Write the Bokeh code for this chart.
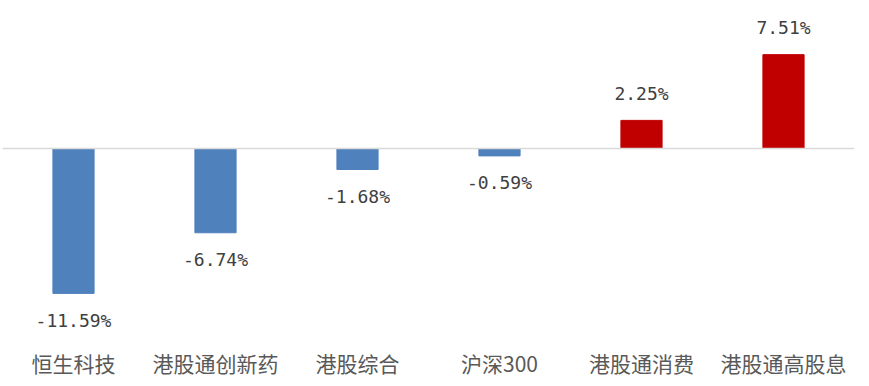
from bokeh.plotting import figure
from bokeh.models import ColumnDataSource, Range1d, FactorRange, Span
from bokeh.core.properties import value
from bokeh.embed import file_html
from bokeh.resources import INLINE

categories = ["恒生科技", "港股通创新药", "港股综合", "沪深300", "港股通消费", "港股通高股息"]
values = [-11.59, -6.74, -1.68, -0.59, 2.25, 7.51]

NEG = "#4f81bd"
POS = "#c00000"

colors = [POS if v > 0 else NEG for v in values]
labels = ["%.2f%%" % v for v in values]
offsets = [-27 if v > 0 else 27 for v in values]

src = ColumnDataSource(dict(cat=categories, val=values, color=colors,
                            label=labels, off=offsets))

p = figure(width=869, height=386, x_range=FactorRange(*categories, range_padding=0),
           y_range=Range1d(-15.36, 11.84), output_backend="svg",
           toolbar_location=None, min_border_left=2, min_border_right=15,
           min_border_top=0, min_border_bottom=46)
p.outline_line_color = None
p.background_fill_color = "white"
p.border_fill_color = "white"
p.grid.grid_line_color = None
p.yaxis.visible = False

p.vbar(x="cat", top="val", bottom=0, width=0.29, color="color", source=src)

p.add_layout(Span(location=0, dimension="width", line_color="#d9d9d9", line_width=1.5))

p.text(x="cat", y="val", text="label", y_offset="off", source=src,
       text_align="center", text_baseline="middle",
       text_font=value("DejaVu Sans Mono"), text_font_size="18px",
       text_color="#404040")

ax = p.xaxis[0]
ax.axis_line_color = None
ax.major_tick_line_color = None
ax.minor_tick_line_color = None
ax.major_tick_out = 0
ax.major_label_standoff = 7
ax.major_label_text_font = "Noto Sans CJK SC"
ax.major_label_text_font_size = "21px"
ax.major_label_text_color = "#595959"

open("out.html", "w").write(file_html(p, INLINE))
